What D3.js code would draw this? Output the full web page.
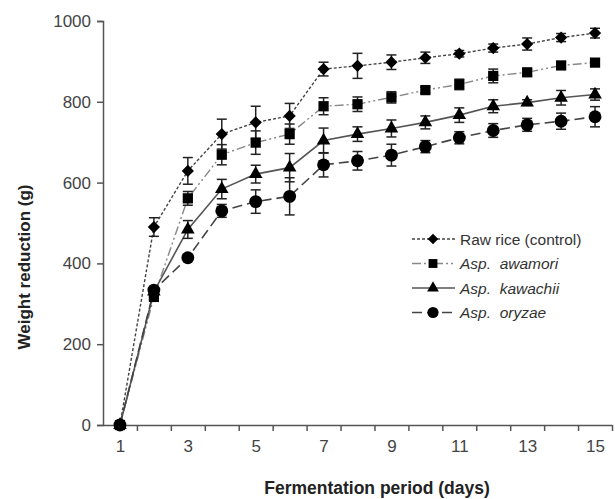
<!DOCTYPE html>
<html>
<head>
<meta charset="utf-8">
<script src="https://cdn.jsdelivr.net/npm/d3@7"></script>
<style>
  body { margin: 0; background: #fff; }
  svg { font-family: "Liberation Sans", Arial, sans-serif; }
</style>
</head>
<body>
<div id="chart"></div>
<script>
// days on the x axis
const days = [1,2,3,4,5,6,7,8,9,10,11,12,13,14,15];
const xLabels = [1,3,5,7,9,11,13,15];
const yTicks = [0,200,400,600,800,1000];

// weight reduction (g)
const rawRice  = [0,490,629,720,749,765,881,889,898,909,919,933,943,959,970];
const rawErr   = [4,23,33,37,40,31,17,31,18,14,8,10,15,10,12];
const awamori  = [0,317,561,669,699,720,789,794,811,829,843,864,873,890,897];
const awaErr   = [4,5,17,25,29,25,21,18,14,7,13,17,8,8,8];
const kawachii = [0,330,484,584,621,637,704,720,734,749,767,789,798,810,818];
const kawErr   = [4,5,22,24,22,35,31,18,21,16,18,16,7,18,14];
const oryzae   = [0,334,414,530,553,566,644,654,668,689,711,729,743,752,763];
const oryErr   = [4,5,5,16,29,46,30,23,27,15,15,17,16,20,25];

const series = [
  { name: "Raw rice (control)", italic: false, values: rawRice,  err: rawErr,  symbol: d3.symbolDiamond2, size: 95,  dash: "3,2",         color: "#444", lw: 1.4 },
  { name: "awamori",            italic: true,  values: awamori,  err: awaErr,  symbol: d3.symbolSquare,   size: 105, dash: "9,3,2,3,2,3", color: "#888", lw: 1.4 },
  { name: "kawachii",           italic: true,  values: kawachii, err: kawErr,  symbol: d3.symbolTriangle, size: 80,  dash: null,          color: "#555", lw: 1.6 },
  { name: "oryzae",             italic: true,  values: oryzae,   err: oryErr,  symbol: d3.symbolCircle,   size: 130, dash: "10,5",        color: "#444", lw: 1.6 }
];

const W = 615, H = 499;
const svg = d3.select("#chart").append("svg")
  .attr("width", W).attr("height", H);

const x = d3.scaleLinear().domain([0.5, 15.5]).range([103, 612]);
const y = d3.scaleLinear().domain([0, 1000]).range([425, 21]);

// axes
const yAxis = svg.append("g")
  .attr("transform", `translate(${x(0.5)},0)`)
  .call(d3.axisLeft(y).tickValues(yTicks).tickFormat(d3.format("d")).tickSize(6).tickPadding(6));
yAxis.select(".domain").attr("stroke", "#555").attr("stroke-width", 1.5);
yAxis.selectAll(".tick line").attr("stroke", "#555").attr("stroke-width", 1.5);
yAxis.selectAll("text").attr("font-size", 17).attr("fill", "#444");

const xAxis = svg.append("g")
  .attr("transform", `translate(0,${y(0)})`)
  .call(d3.axisBottom(x).tickValues(d3.range(1.5, 16, 1)).tickSize(6).tickSizeOuter(0).tickFormat(""));
xAxis.select(".domain").attr("stroke", "#555").attr("stroke-width", 1.5);
xAxis.selectAll(".tick line").attr("stroke", "#555").attr("stroke-width", 1.5);

const xLab = svg.append("g")
  .attr("transform", `translate(0,${y(0)})`)
  .call(d3.axisBottom(x).tickValues(xLabels).tickSize(0).tickPadding(15));
xLab.select(".domain").remove();
xLab.selectAll("text").attr("font-size", 17).attr("fill", "#444");

// axis titles
svg.append("text")
  .attr("x", 377).attr("y", 494)
  .attr("text-anchor", "middle")
  .attr("font-size", 17.5).attr("font-weight", "bold").attr("fill", "#222")
  .text("Fermentation period (days)");

svg.append("text")
  .attr("transform", "translate(30,267) rotate(-90)")
  .attr("text-anchor", "middle")
  .attr("font-size", 17).attr("font-weight", "bold").attr("fill", "#222")
  .text("Weight reduction (g)");

// lines
const line = d3.line().x((d, i) => x(days[i])).y(d => y(d));

series.forEach(s => {
  svg.append("path")
    .datum(s.values)
    .attr("d", line)
    .attr("fill", "none")
    .attr("stroke", s.color)
    .attr("stroke-width", s.lw)
    .attr("stroke-dasharray", s.dash);
});

// error bars and markers
series.forEach(s => {
  const g = svg.append("g");
  s.values.forEach((v, i) => {
    const e = s.err[i];
    if (e > 6) {
      const cx = x(days[i]);
      g.append("line").attr("x1", cx).attr("x2", cx)
        .attr("y1", y(v - e)).attr("y2", y(v + e))
        .attr("stroke", "#222").attr("stroke-width", 1.5);
      [v - e, v + e].forEach(t => {
        g.append("line").attr("x1", cx - 5).attr("x2", cx + 5)
          .attr("y1", y(t)).attr("y2", y(t))
          .attr("stroke", "#222").attr("stroke-width", 1.5);
      });
    }
  });
  g.selectAll("path")
    .data(s.values)
    .join("path")
      .attr("transform", (d, i) => `translate(${x(days[i])},${y(d)})`)
      .attr("d", d3.symbol().type(s.symbol).size(s.size))
      .attr("fill", "#000");
});

// legend
const legend = svg.append("g").attr("transform", "translate(412,239)");
series.forEach((s, i) => {
  const row = legend.append("g").attr("transform", `translate(0,${i * 24.5})`);
  row.append("line")
    .attr("x1", 0).attr("x2", 43).attr("y1", 0).attr("y2", 0)
    .attr("stroke", s.color).attr("stroke-width", s.lw)
    .attr("stroke-dasharray", s.dash);
  row.append("path")
    .attr("transform", "translate(21,0)")
    .attr("d", d3.symbol().type(s.symbol).size(s.size * 0.75))
    .attr("fill", "#000");
  const t = row.append("text")
    .attr("x", 48).attr("y", 5.5)
    .attr("font-size", 15.5).attr("fill", "#333");
  if (s.italic) {
    t.attr("font-style", "italic").attr("xml:space", "preserve").text("Asp.  " + s.name);
  } else {
    t.text(s.name);
  }
});
</script>
</body>
</html>
